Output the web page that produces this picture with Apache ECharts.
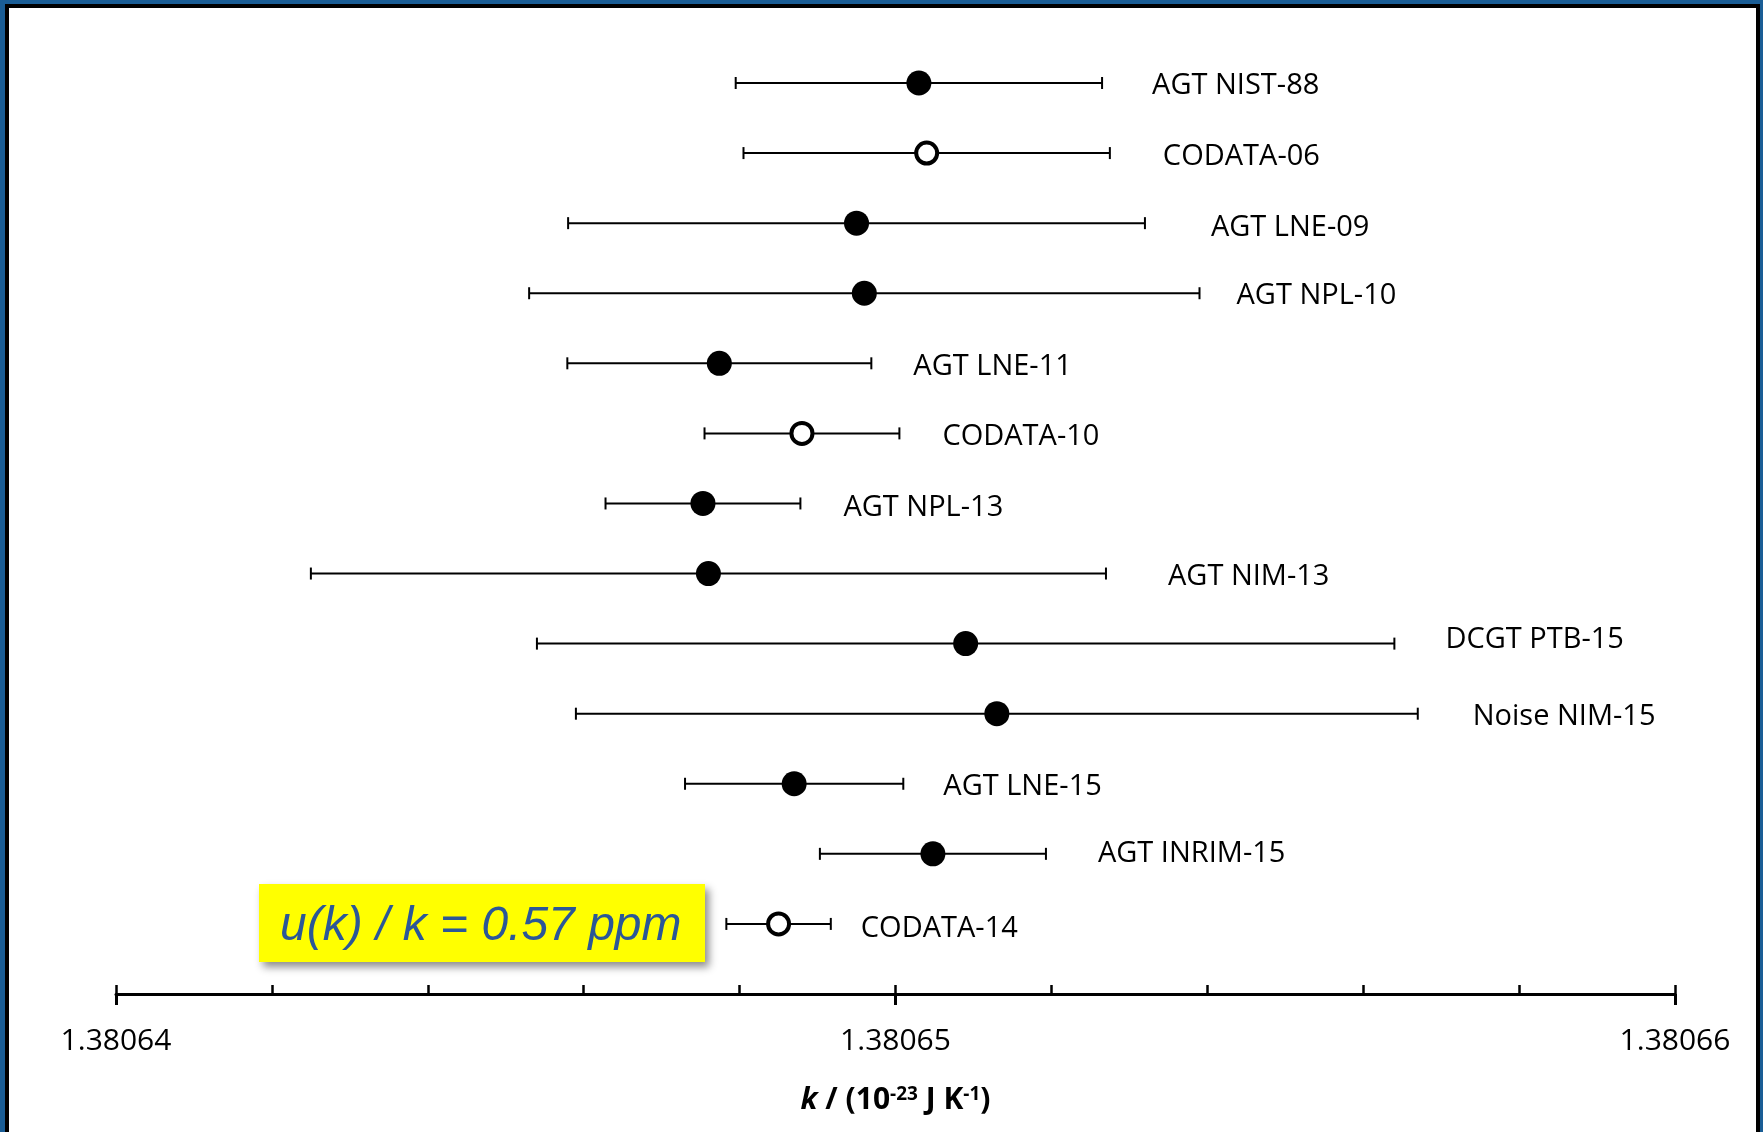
<!DOCTYPE html>
<html>
<head>
<meta charset="utf-8">
<script src="https://cdn.jsdelivr.net/npm/echarts@6/dist/echarts.min.js"></script>
<style>
  html, body { margin: 0; padding: 0; width: 1763px; height: 1132px; overflow: hidden; background: #1a5d95; }
  #panel { position: absolute; left: 5px; top: 4px; width: 1747px; height: 1140px; background: #fff;
           border-top: 4px solid #000; border-left: 4px solid #000; border-right: 4px solid #000; }
  #chart { position: absolute; left: 0; top: 0; width: 1763px; height: 1132px; }
</style>
</head>
<body>
<div id="panel"></div>
<div id="chart"></div>
<script>
// ---- data (k in units of 1e-23 J/K) ----
const names = ['AGT NIST-88', 'CODATA-06', 'AGT LNE-09', 'AGT NPL-10', 'AGT LNE-11', 'CODATA-10',
               'AGT NPL-13', 'AGT NIM-13', 'DCGT PTB-15', 'Noise NIM-15', 'AGT LNE-15', 'AGT INRIM-15', 'CODATA-14'];
const kValues = [1.3806503, 1.3806504, 1.3806495, 1.3806496, 1.38064774, 1.3806488,
                 1.38064753, 1.3806476, 1.3806509, 1.3806513, 1.3806487, 1.38065048, 1.3806485];
const uValues = [0.00000235, 0.00000235, 0.0000037, 0.0000043, 0.00000195, 0.00000125,
                 0.00000125, 0.0000051, 0.0000055, 0.0000054, 0.0000014, 0.00000145, 0.00000067];
const isCodata = [false, true, false, false, false, true, false, false, false, false, false, false, true];
const tickLabels = ['1.38064', '1.38065', '1.38066'];
const axisMin = 1.38064, axisMax = 1.38066, minorStep = 0.000002, majorStep = 0.00001;
const noteText = 'u(k) / k = 0.57 ppm';

// ---- layout (not data) ----
const labelGap = [50, 53, 66, 37, 42, 43, 43, 62, 51, 55, 40, 52, 30];
const labelDy  = [3, 4, 5, 3, 3, 3, 4, 3, -4, 3, 3, 0, 5];
const FONT = '"Open Sans", "Liberation Sans", sans-serif';

const barData = names.map((n, i) => [kValues[i] - uValues[i], kValues[i] + uValues[i], i]);
const filled = [], open = [];
names.forEach((n, i) => { (isCodata[i] ? open : filled).push([kValues[i], i]); });

function fmtTick(v) {
  const idx = Math.round((v - axisMin) / majorStep);
  const lab = tickLabels[idx];
  return (lab !== undefined && Math.abs(v - (axisMin + idx * majorStep)) < minorStep / 4) ? lab : '';
}

const chart = echarts.init(document.getElementById('chart'), null, { renderer: 'canvas' });
chart.setOption({
  backgroundColor: 'transparent',
  animation: false,
  grid: { left: 116, right: 88, top: 83, bottom: 138 },
  xAxis: [
    {
      type: 'value', min: axisMin, max: axisMax, interval: minorStep, position: 'bottom',
      splitLine: { show: false },
      axisLine: { show: true, onZero: false, lineStyle: { color: '#000', width: 3 } },
      axisTick: { show: true, inside: true, length: 9, lineStyle: { color: '#000', width: 2.5 } },
      axisLabel: { show: true, formatter: fmtTick, margin: 32, color: '#000', fontSize: 30, fontFamily: FONT },
      name: '{i|k}{b| / (10}{s|-23}{b| J K}{s|-1}{b|)}',
      nameLocation: 'middle', nameGap: 91,
      nameTextStyle: {
        rich: {
          i: { fontStyle: 'italic', fontWeight: 'bold', fontSize: 30, fontFamily: FONT, color: '#000' },
          b: { fontWeight: 'bold', fontSize: 30, fontFamily: FONT, color: '#000' },
          s: { fontWeight: 'bold', fontSize: 19, fontFamily: FONT, color: '#000', verticalAlign: 'top', padding: [0, 0, 12, 0] }
        }
      }
    },
    {
      type: 'value', min: axisMin, max: axisMax, interval: majorStep, position: 'bottom',
      splitLine: { show: false },
      axisLine: { show: false, onZero: false },
      axisTick: { show: true, inside: false, length: 11, lineStyle: { color: '#000', width: 3 } },
      axisLabel: { show: false }
    }
  ],
  yAxis: { type: 'value', min: 0, max: 13, inverse: true, show: false, splitLine: { show: false } },
  series: [
    {
      type: 'custom', xAxisIndex: 0,
      data: barData,
      renderItem: function (params, api) {
        const i = api.value(2);
        const lo = api.coord([api.value(0), i]);
        const hi = api.coord([api.value(1), i]);
        const y = lo[1];
        const cap = 6;
        const ls = { stroke: '#000', lineWidth: 2 };
        return {
          type: 'group',
          children: [
            { type: 'line', shape: { x1: lo[0], y1: y, x2: hi[0], y2: y }, style: ls },
            { type: 'line', shape: { x1: lo[0], y1: y - cap, x2: lo[0], y2: y + cap }, style: ls },
            { type: 'line', shape: { x1: hi[0], y1: y - cap, x2: hi[0], y2: y + cap }, style: ls },
            { type: 'text', style: { text: names[i], x: hi[0] + labelGap[i], y: y + labelDy[i],
                verticalAlign: 'middle', align: 'left', fill: '#000', font: '29px ' + FONT } }
          ]
        };
      },
      z: 2
    },
    {
      type: 'scatter', data: filled, symbol: 'circle', symbolSize: 25,
      itemStyle: { color: '#000', opacity: 1 }, z: 3
    },
    {
      type: 'scatter', data: open, symbol: 'circle', symbolSize: 21,
      itemStyle: { color: '#fff', borderColor: '#000', borderWidth: 4, opacity: 1 }, z: 3
    }
  ],
  graphic: [
    {
      type: 'rect', left: 259, top: 884, shape: { width: 446, height: 78 },
      style: { fill: '#ffff00', shadowBlur: 8, shadowOffsetX: 4, shadowOffsetY: 5, shadowColor: 'rgba(0,0,0,0.45)' },
      z: 10
    },
    {
      type: 'text', left: 280, top: 903,
      style: { text: noteText, fill: '#2b5797', font: 'italic 48px "Liberation Sans", Arial, sans-serif' },
      z: 11
    }
  ]
});
</script>
</body>
</html>
